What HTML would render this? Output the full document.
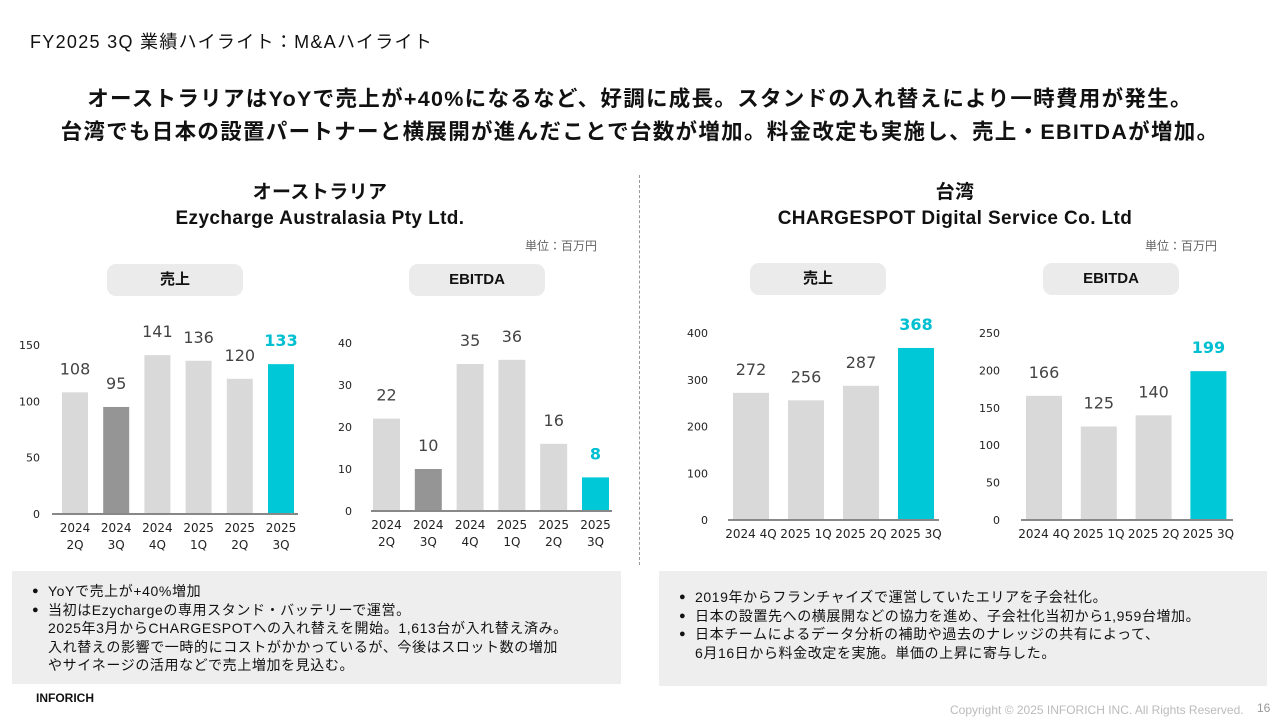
<!DOCTYPE html>
<html><head><meta charset="utf-8">
<style>
body{margin:0;width:1280px;height:720px;background:#fff;position:relative;overflow:hidden;font-family:"Liberation Sans","Noto Sans CJK JP",sans-serif;color:#111}
.a{position:absolute;white-space:nowrap}
.c{text-align:center}
.pill{position:absolute;background:#ebebeb;border-radius:9px;font-weight:bold;font-size:15px;text-align:center;line-height:32px;height:32px;width:136px}
.box{position:absolute;background:#eeeeee;font-size:14px;letter-spacing:0.6px;line-height:18.5px;box-sizing:border-box}
.box ul{margin:0;padding:0 0 0 20px;list-style:none}
.box li{position:relative;padding-left:16px}
.box li:before{content:"●";position:absolute;left:0;font-size:11px}
svg text{font-family:"DejaVu Sans","Noto Sans CJK JP",sans-serif}
</style></head><body>
<div class="a" style="left:30px;top:28px;font-size:18px;letter-spacing:1.3px">FY2025 3Q 業績ハイライト：M&amp;Aハイライト</div>
<div class="a c" style="left:0;width:1280px;top:83px;font-size:21.5px;font-weight:bold;line-height:33px;letter-spacing:1.3px">オーストラリアはYoYで売上が+40%になるなど、好調に成長。スタンドの入れ替えにより一時費用が発生。<br>台湾でも日本の設置パートナーと横展開が進んだことで台数が増加。料金改定も実施し、売上・EBITDAが増加。</div>

<div class="a c" style="left:120px;width:400px;top:180px;font-size:19px;font-weight:bold;line-height:26px;letter-spacing:0.4px">オーストラリア<br>Ezycharge Australasia Pty Ltd.</div>
<div class="a c" style="left:755px;width:400px;top:180px;font-size:19px;font-weight:bold;line-height:26px;letter-spacing:0.4px">台湾<br>CHARGESPOT Digital Service Co. Ltd</div>
<div class="a" style="left:525px;top:237px;font-size:12px;color:#666">単位：百万円</div>
<div class="a" style="left:1145px;top:237px;font-size:12px;color:#666">単位：百万円</div>

<div class="pill" style="left:107px;top:264px">売上</div>
<div class="pill" style="left:409px;top:264px">EBITDA</div>
<div class="pill" style="left:750px;top:263px">売上</div>
<div class="pill" style="left:1043px;top:263px">EBITDA</div>

<div class="a" style="left:639px;top:175px;height:390px;border-left:1.5px dashed #999"></div>

<svg id="charts" width="1280" height="720" style="position:absolute;left:0;top:0"></svg>

<div class="box" style="left:12px;top:571px;width:609px;height:113px;padding-top:11px">
<ul><li>YoYで売上が+40%増加</li><li>当初はEzychargeの専用スタンド・バッテリーで運営。<br>2025年3月からCHARGESPOTへの入れ替えを開始。1,613台が入れ替え済み。<br>入れ替えの影響で一時的にコストがかかっているが、今後はスロット数の増加<br>やサイネージの活用などで売上増加を見込む。</li></ul></div>
<div class="box" style="left:659px;top:571px;width:608px;height:115px;padding-top:17px">
<ul><li>2019年からフランチャイズで運営していたエリアを子会社化。</li><li>日本の設置先への横展開などの協力を進め、子会社化当初から1,959台増加。</li><li>日本チームによるデータ分析の補助や過去のナレッジの共有によって、<br>6月16日から料金改定を実施。単価の上昇に寄与した。</li></ul></div>

<div class="a" style="left:36px;top:691px;font-size:12px;font-weight:bold">INFORICH</div>
<div class="a" style="left:950px;top:703px;font-size:12px;color:#bbb">Copyright © 2025 INFORICH INC. All Rights Reserved.</div>
<div class="a" style="left:1257px;top:701px;font-size:12px;color:#999">16</div>

<script>
const auCats=["2024\n2Q","2024\n3Q","2024\n4Q","2025\n1Q","2025\n2Q","2025\n3Q"];
const auSales=[108,95,141,136,120,133];
const auSalesTicks=[0,50,100,150];
const auEbitda=[22,10,35,36,16,8];
const auEbitdaTicks=[0,10,20,30,40];
const twCats=["2024 4Q","2025 1Q","2025 2Q","2025 3Q"];
const twSales=[272,256,287,368];
const twSalesTicks=[0,100,200,300,400];
const twEbitda=[166,125,140,199];
const twEbitdaTicks=[0,50,100,150,200,250];
const auColors=["#d9d9d9","#959595","#d9d9d9","#d9d9d9","#d9d9d9","#00c8d7"];
const twColors=["#d9d9d9","#d9d9d9","#d9d9d9","#00c8d7"];
const NS="http://www.w3.org/2000/svg";
const svg=document.getElementById('charts');
function el(t,a,txt){const e=document.createElementNS(NS,t);for(const k in a)e.setAttribute(k,a[k]);if(txt!==undefined)e.textContent=txt;svg.appendChild(e);return e;}
function chart(name,cats,vals,ticks,colors,g){
  const max=ticks[ticks.length-1];
  const y=v=>g.base-(v/max)*(g.base-g.top);
  const x=i=>g.x0+i*g.step;
  ticks.forEach(t=>{const e=el('text',{x:g.tx,y:y(t)+4,'text-anchor':'end','font-size':11,fill:'#222'},t);
    
    });
  vals.forEach((v,i)=>{
    const r=el('rect',{x:x(i),y:y(v),width:g.bw,height:g.base-y(v),fill:colors[i]});
    
    
    const hi=colors[i]==="#00c8d7";
    const t=el('text',{x:x(i)+g.bw/2,y:y(v)-g.lg,'text-anchor':'middle','font-size':16,'font-weight':hi?'bold':'normal',fill:hi?'#00bfd0':'#444'},v);
    
    
    const lines=cats[i].split("\n");
    lines.forEach((ln,j)=>{const c=el('text',{x:x(i)+g.bw/2,y:g.base+18+j*17,'text-anchor':'middle','font-size':12,fill:'#222'},ln);
      
      });
  });
  const ax=el('line',{x1:g.ax0,x2:g.ax1,y1:g.base,y2:g.base,stroke:'#888','stroke-width':2});
  
  
}
chart('au-sales',auCats,auSales,auSalesTicks,auColors,{base:514,top:345,x0:62,step:41.2,bw:26,tx:40,ax0:52,ax1:298,lg:18});
chart('au-ebitda',auCats,auEbitda,auEbitdaTicks,auColors,{base:511,top:343,x0:373,step:41.8,bw:27,tx:352,ax0:371,ax1:612,lg:18});
chart('tw-sales',twCats,twSales,twSalesTicks,twColors,{base:520,top:333,x0:733,step:55,bw:36,tx:708,ax0:728,ax1:939,lg:18});
chart('tw-ebitda',twCats,twEbitda,twEbitdaTicks,twColors,{base:520,top:333,x0:1026,step:54.8,bw:36,tx:1000,ax0:1021,ax1:1233,lg:18});
</script>
</body></html>
